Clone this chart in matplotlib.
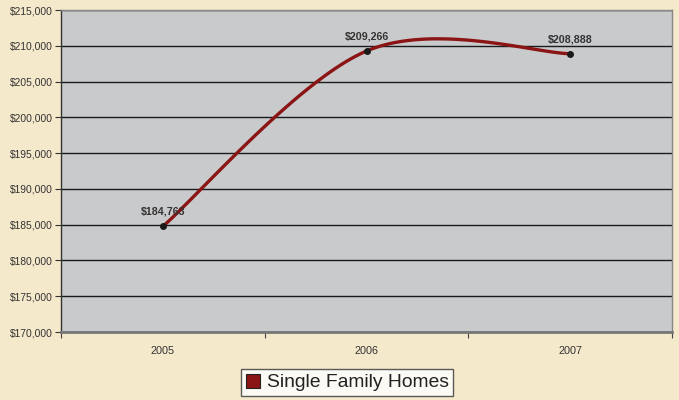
import numpy as np
import matplotlib.pyplot as plt
from matplotlib.ticker import FuncFormatter, FixedLocator

years = ['2005', '2006', '2007']
prices = [184763, 209266, 208888]
series_name = 'Single Family Homes'

plt.rcParams['font.family'] = ['Liberation Sans', 'DejaVu Sans']


def excel_smooth(xs, ys, n=60):
    # bezier smoothing like the spreadsheet "smoothed line" option
    xs = np.asarray(xs, float)
    ys = np.asarray(ys, float)
    px = np.concatenate([[xs[0]], xs, [xs[-1]]])
    py = np.concatenate([[ys[0]], ys, [ys[-1]]])
    outx, outy = [], []
    t = np.linspace(0, 1, n)
    for i in range(1, len(xs)):
        p0 = np.array([px[i], py[i]])
        p3 = np.array([px[i + 1], py[i + 1]])
        c1 = p0 + (np.array([px[i + 1], py[i + 1]]) - np.array([px[i - 1], py[i - 1]])) / 6
        c2 = p3 - (np.array([px[i + 2], py[i + 2]]) - np.array([px[i], py[i]])) / 6
        for p, out in ((0, outx), (1, outy)):
            b = ((1 - t) ** 3 * p0[p] + 3 * (1 - t) ** 2 * t * c1[p]
                 + 3 * (1 - t) * t ** 2 * c2[p] + t ** 3 * p3[p])
            out.extend(b)
    return np.array(outx), np.array(outy)


fig = plt.figure(figsize=(6.79, 4.0), dpi=100, facecolor='#F5E9CB')
ax = fig.add_axes([61 / 679, 1 - 332 / 400, 611 / 679, 322 / 400])
ax.set_facecolor('#C9CACC')

x = np.arange(len(years))
sx, sy = excel_smooth(x, prices)
line, = ax.plot(sx, sy, color='#8B1414', lw=2.4, zorder=3)
ax.plot(x, prices, 'o', color='#1a1a1a', ms=4, zorder=4)

for xi, p in zip(x, prices):
    ax.annotate('${:,}'.format(p), (xi, p), xytext=(0, 7), textcoords='offset points',
                ha='center', va='bottom', fontsize=7.7, fontweight='bold', color='#333333')

ax.set_xlim(-0.5, len(years) - 0.5)
ax.set_ylim(170000, 215000)
ax.set_yticks(np.arange(170000, 215001, 5000))
ax.yaxis.set_major_formatter(FuncFormatter(lambda v, pos: '${:,.0f}'.format(v)))
ax.yaxis.grid(True, color='#1a1a1a', lw=1)
ax.set_axisbelow(True)

ax.xaxis.set_major_locator(FixedLocator(np.arange(-0.5, len(years), 1)))
ax.xaxis.set_minor_locator(FixedLocator(x))
ax.set_xticklabels([])
ax.set_xticklabels(years, minor=True)
ax.tick_params(axis='x', which='major', length=4, color='#444444', direction='out')
ax.tick_params(axis='x', which='minor', length=0, pad=10, labelsize=7.8, labelcolor='#333333')
ax.tick_params(axis='y', length=4, pad=2, color='#333333', labelsize=7.4, labelcolor='#333333')

for s in ['top', 'right']:
    ax.spines[s].set_color('#888888')
    ax.spines[s].set_linewidth(1)
ax.spines['bottom'].set_color('#777777')
ax.spines['bottom'].set_linewidth(2)
ax.spines['left'].set_color('#333333')
ax.spines['left'].set_linewidth(1)

handle = plt.Line2D([], [], marker='s', ls='none', color='#8B1414', mec='#222222',
                    mew=0.8, ms=10)
leg = fig.legend([handle], [series_name], loc='center', bbox_to_anchor=(347 / 679, 1 - 382.5 / 400),
                 frameon=True, fancybox=False, fontsize=13.9, handlelength=0.8,
                 handletextpad=0.3, borderpad=0.25, borderaxespad=0)
leg.get_frame().set_edgecolor('#333333')
leg.get_frame().set_linewidth(1)
for t in leg.get_texts():
    t.set_color('#222222')

fig.savefig('out.png', dpi=100, facecolor=fig.get_facecolor())
